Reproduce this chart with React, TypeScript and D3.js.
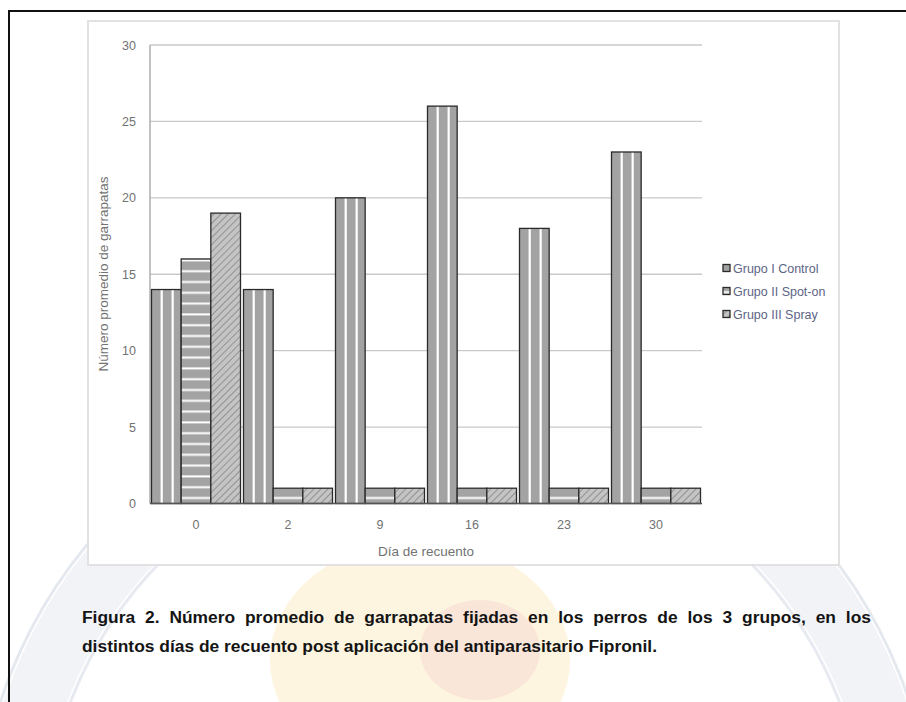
// React
import { useEffect, useRef } from 'react';

// Installed Packages
import * as d3 from 'd3';

// Datos
const dias = ['0', '2', '9', '16', '23', '30'];
const grupos = ['Grupo I Control', 'Grupo II Spot-on', 'Grupo III Spray'];
const grupoControl = [14, 14, 20, 26, 18, 23];
const grupoSpotOn = [16, 1, 1, 1, 1, 1];
const grupoSpray = [19, 1, 1, 1, 1, 1];
const yTicks = [0, 5, 10, 15, 20, 25, 30];
const captionLines = [
    'Figura 2. Número promedio de garrapatas fijadas en los perros de los 3 grupos, en los',
    'distintos días de recuento post aplicación del antiparasitario Fipronil.'
];

const FONT = '"Liberation Sans", Arial, Helvetica, sans-serif';

export default function App() {

    let ref = useRef<SVGSVGElement>(null);

    useEffect(() => {

        const W = 906, H = 702;
        const svg = d3.select(ref.current);
        svg.selectAll('*').remove();

        const plot = { left: 150, right: 702, top: 45, bottom: 503.5 };

        const x = d3.scaleBand().domain(dias).range([plot.left, plot.right]).paddingInner(0.0326).paddingOuter(0.0163);
        const xs = d3.scaleBand().domain(grupos).range([0, x.bandwidth()]);
        const y = d3.scaleLinear().domain([0, 30]).range([plot.bottom, plot.top]);

        const rows = dias.map((d, i) => ({ dia: d, valores: [grupoControl[i], grupoSpotOn[i], grupoSpray[i]] }));

        // Patterns
        const defs = svg.append('defs');
        const rh = defs.append('pattern').attr('id', 'rayasH').attr('patternUnits', 'userSpaceOnUse')
            .attr('x', 0).attr('y', y(0)).attr('width', 8).attr('height', 10.8);
        rh.append('rect').attr('width', 8).attr('height', 10.8).attr('fill', '#a3a3a3');
        rh.append('rect').attr('y', 4.3).attr('width', 8).attr('height', 2).attr('fill', '#ffffff');

        const rd = defs.append('pattern').attr('id', 'rayasD').attr('patternUnits', 'userSpaceOnUse')
            .attr('width', 5).attr('height', 5).attr('patternTransform', 'rotate(45)');
        rd.append('rect').attr('width', 5).attr('height', 5).attr('fill', '#c4c4c4');
        rd.append('line').attr('x1', 0.5).attr('y1', 0).attr('x2', 0.5).attr('y2', 5).attr('stroke', '#939393').attr('stroke-width', 1);

        // Background watermark (faint seal behind the page)
        const wm = svg.append('g');
        wm.append('rect').attr('width', W).attr('height', H).attr('fill', '#ffffff');
        wm.append('ellipse').attr('cx', 420).attr('cy', 660).attr('rx', 150).attr('ry', 120).attr('fill', '#fdf3d9').attr('opacity', 0.85);
        wm.append('ellipse').attr('cx', 480).attr('cy', 650).attr('rx', 60).attr('ry', 50).attr('fill', '#f8e0d6').attr('opacity', 0.7);
        wm.append('circle').attr('cx', 455).attr('cy', 850).attr('r', 445).attr('fill', 'none').attr('stroke', '#f1f3f7').attr('stroke-width', 60);
        wm.append('circle').attr('cx', 455).attr('cy', 850).attr('r', 478).attr('fill', 'none').attr('stroke', '#e4e8ef').attr('stroke-width', 3);
        wm.append('circle').attr('cx', 455).attr('cy', 850).attr('r', 412).attr('fill', 'none').attr('stroke', '#e7eaf0').attr('stroke-width', 3);

        // Chart picture
        svg.append('rect').attr('x', 88).attr('y', 21).attr('width', 751).attr('height', 544)
            .attr('fill', '#ffffff').attr('stroke', '#e2e2e2').attr('stroke-width', 2);

        // Grid
        svg.append('g').selectAll('line').data(yTicks.filter(t => t > 0)).join('line')
            .attr('x1', plot.left).attr('x2', plot.right)
            .attr('y1', d => y(d)).attr('y2', d => y(d))
            .attr('stroke', '#c9c9c9').attr('stroke-width', 1.4);

        svg.append('line').attr('x1', plot.left).attr('x2', plot.left).attr('y1', plot.top).attr('y2', plot.bottom)
            .attr('stroke', '#a8a8a8').attr('stroke-width', 1.4);

        // Y labels
        svg.append('g').selectAll('text').data(yTicks).join('text')
            .attr('x', 136).attr('y', d => y(d) + 4.5)
            .attr('text-anchor', 'end').attr('font-family', FONT).attr('font-size', 12.5).attr('fill', '#727272')
            .text(d => d);

        // Bars
        const grp = svg.append('g').selectAll('g').data(rows).join('g')
            .attr('transform', d => `translate(${x(d.dia)},0)`);

        grp.each(function (row) {
            const g = d3.select(this);
            row.valores.forEach((v, k) => {
                const bx = xs(grupos[k])!;
                const bw = xs.bandwidth();
                const top = y(v);
                const h = y(0) - top;
                if (k === 0) {
                    g.append('rect').attr('x', bx).attr('y', top).attr('width', bw).attr('height', h).attr('fill', '#a3a3a3');
                    [0.34, 0.71].forEach(f => {
                        g.append('rect').attr('x', bx + bw * f - 1).attr('y', top).attr('width', 2.2).attr('height', h).attr('fill', '#ffffff');
                    });
                } else {
                    g.append('rect').attr('x', bx).attr('y', top).attr('width', bw).attr('height', h)
                        .attr('fill', k === 1 ? 'url(#rayasH)' : 'url(#rayasD)');
                }
                g.append('rect').attr('x', bx).attr('y', top).attr('width', bw).attr('height', h)
                    .attr('fill', 'none').attr('stroke', '#2a2a2a').attr('stroke-width', 1.3);
            });
        });

        // Baseline
        svg.append('line').attr('x1', plot.left).attr('x2', plot.right).attr('y1', y(0)).attr('y2', y(0))
            .attr('stroke', '#555555').attr('stroke-width', 1.4);

        // X labels
        svg.append('g').selectAll('text').data(dias).join('text')
            .attr('x', d => x(d)! + x.bandwidth() / 2).attr('y', 529)
            .attr('text-anchor', 'middle').attr('font-family', FONT).attr('font-size', 12.5).attr('fill', '#727272')
            .text(d => d);

        // Axis titles
        svg.append('text').attr('x', 426).attr('y', 556).attr('text-anchor', 'middle')
            .attr('font-family', FONT).attr('font-size', 13.5).attr('fill', '#727272').text('Día de recuento');
        svg.append('text').attr('transform', 'translate(108,274) rotate(-90)').attr('text-anchor', 'middle')
            .attr('font-family', FONT).attr('font-size', 13.5).attr('fill', '#727272').text('Número promedio de garrapatas');

        // Legend
        const leg = svg.append('g').selectAll('g').data(grupos).join('g')
            .attr('transform', (d, i) => `translate(723,${268 + i * 23})`);
        leg.append('rect').attr('x', 0).attr('y', -3.5).attr('width', 7).attr('height', 7)
            .attr('fill', (d, i) => i === 0 ? '#a3a3a3' : i === 1 ? 'url(#rayasH)' : 'url(#rayasD)')
            .attr('stroke', '#2a2a2a').attr('stroke-width', 1.3);
        leg.append('text').attr('x', 10).attr('y', 4.5).attr('font-family', FONT).attr('font-size', 12.5)
            .attr('fill', '#5d6485').text(d => d);

        // Caption (justified first line)
        const capSize = 17.4;
        const ctx = document.createElement('canvas').getContext('2d')!;
        ctx.font = `bold ${capSize}px ${FONT}`;
        const cap = svg.append('g').attr('font-family', FONT).attr('font-size', capSize).attr('font-weight', 'bold').attr('fill', '#141414');
        const words = captionLines[0].split(' ');
        const widths = words.map(w => ctx.measureText(w).width);
        const gap = (871 - 82 - d3.sum(widths)) / (words.length - 1);
        let cx = 82;
        words.forEach((w, i) => {
            cap.append('text').attr('x', cx).attr('y', 623).text(w);
            cx += widths[i] + gap;
        });
        cap.append('text').attr('x', 82).attr('y', 652).text(captionLines[1]);

        // Frame
        svg.append('rect').attr('x', 9).attr('y', 11).attr('width', 905).attr('height', 700)
            .attr('fill', 'none').attr('stroke', '#111111').attr('stroke-width', 2);

    }, []);

    return <svg ref={ref} width={906} height={702} style={{ position: 'absolute', left: 0, top: 0 }}></svg>
}
